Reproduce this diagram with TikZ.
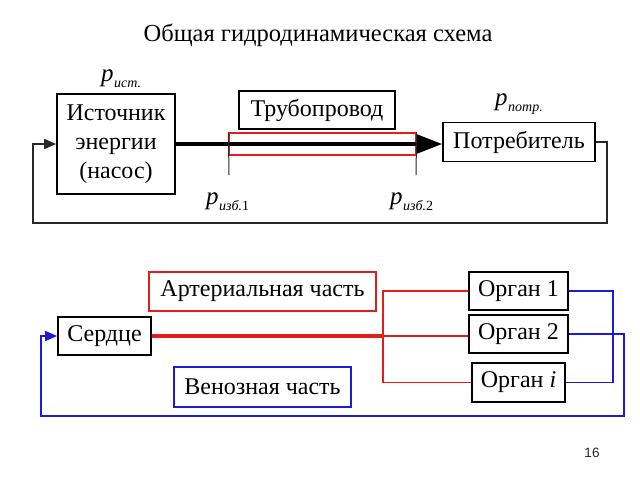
\documentclass[tikz,border=0pt]{standalone}
\usepackage{fontspec}
\setmainfont{Liberation Serif}
\setsansfont{Liberation Sans}
\usetikzlibrary{arrows.meta}
\definecolor{myred}{RGB}{228,28,28}
\definecolor{myblue}{RGB}{28,28,212}
\definecolor{lineblk}{RGB}{40,40,40}
\newcommand{\plab}[2]{\textit{p}\kern0.5pt\raisebox{-0.25em}{\fontsize{14}{14}\selectfont\textit{#1}#2}}
\begin{document}
\begin{tikzpicture}[x=1pt,y=-1pt,
  box/.style={draw,line width=1.6pt,inner sep=0pt,font=\fontsize{24}{29}\selectfont,align=center},
  plabel/.style={font=\fontsize{25}{25}\selectfont,inner sep=0pt,anchor=base west},
  thinline/.style={line width=1.5pt},
  smallarrow/.style={-{Triangle[length=12pt,width=10pt]}}]
\useasboundingbox (0,0) rectangle (640,480);

\node[font=\fontsize{24.5}{28}\selectfont] (title) at (318,35) {Общая гидродинамическая схема};

% top part
\node[box,minimum width=118,minimum height=100] (src) at (116,144) {Источник\\энергии\\(насос)};
\node[box,minimum width=156,minimum height=38] (pipe) at (317,110) {Трубопровод};
\node[box,minimum width=152,minimum height=39] (cons) at (519,142) {Потребитель};
\node[draw=myred,line width=1.2pt,minimum width=187,minimum height=22,inner sep=0pt] (tube) at (322.5,144) {};

\draw[line width=3.5pt,-{Triangle[length=26pt,width=19pt]}] (src.east) -- (src.east -| cons.west);

\coordinate (t1) at (229,175);
\coordinate (t2) at (416,175);
\draw[line width=1pt,lineblk] (tube.north west) -- (t1);
\draw[line width=1pt,lineblk] (tube.north east) -- (t2);

\node[plabel] (pist) at (101,81) {\plab{ист.}{}};
\node[plabel] (ppotr) at (495,105) {\plab{потр.}{}};
\node[plabel] (pizb1) at (206,204) {\plab{изб.}{1}};
\node[plabel] (pizb2) at (390,204) {\plab{изб.}{2}};

\coordinate (f1) at (607,142);
\coordinate (f2) at (607,223);
\coordinate (f3) at (33,223);
\coordinate (f4) at (33,144);
\draw[thinline,lineblk,smallarrow] (cons.east) -- (f1) -- (f2) -- (f3) -- (f4) -- (src.west);

% bottom part
\node[box,minimum width=93,minimum height=38] (heart) at (104.5,336) {Сердце};
\node[box,draw=myred,minimum width=227,minimum height=39] (art) at (262.5,291.5) {Артериальная часть};
\node[box,draw=myblue,minimum width=177,minimum height=40] (ven) at (262.5,387) {Венозная часть};
\node[box,minimum width=99,minimum height=38] (org1) at (518.5,291) {Орган 1};
\node[box,minimum width=99,minimum height=38] (org2) at (518.5,334) {Орган 2};
\node[box,minimum width=93,minimum height=39] (orgi) at (518.5,382.5) {Орган \textit{i}};

\coordinate (j) at (383,336);
\draw[myred,line width=3.5pt] (heart.east) -- (j);
\draw[myred,thinline] (j) -- (j -| org2.west);
\draw[myred,thinline] (org1.west) -| (j) |- (orgi.west);

\coordinate (b1) at (613,336);
\draw[myblue,thinline] (org1.east) -| (b1) |- (orgi.east);

\coordinate (c1) at (624,334);
\coordinate (c2) at (624,416);
\coordinate (c3) at (41,416);
\coordinate (c4) at (41,336);
\draw[myblue,thinline,smallarrow] (org2.east) -- (c1) -- (c2) -- (c3) -- (c4) -- (heart.west);

\node[font=\sffamily\fontsize{13.5}{13.5}\selectfont,text=lineblk] (pg) at (592,453) {16};
\end{tikzpicture}
\end{document}
